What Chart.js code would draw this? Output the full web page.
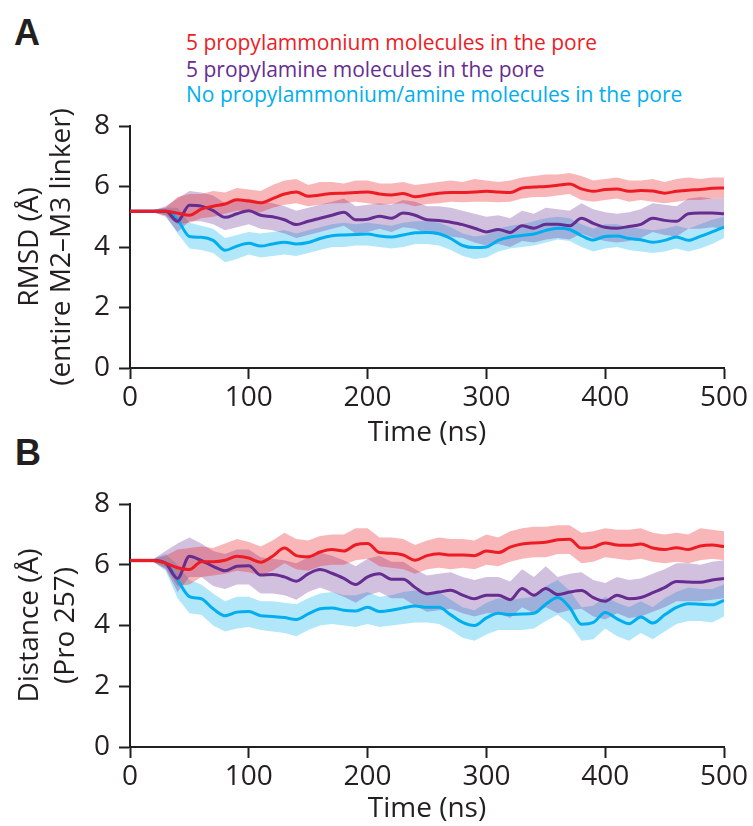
<!DOCTYPE html>
<html>
<head>
<meta charset="utf-8">
<script src="https://cdn.jsdelivr.net/npm/chart.js@4.4.0/dist/chart.umd.min.js"></script>
<style>
  html, body { margin:0; padding:0; background:#fff; }
  #wrap { position:relative; width:753px; height:826px; overflow:hidden; }
  canvas { position:absolute; left:0; }
  .lbl { position:absolute; font-family:'Liberation Sans', Arial, sans-serif; font-weight:bold; font-size:36px; line-height:36px; color:#231f20; }
  .leg { position:absolute; left:186px; font-family:'Open Sans', sans-serif; font-size:21px; line-height:26px; white-space:nowrap; }
</style>
</head>
<body>
<div id="wrap">
  <div class="lbl" style="left:14px; top:15px;">A</div>
  <div class="lbl" style="left:15px; top:435px;">B</div>
  <div class="leg" style="top:29px; color:#ed1c24;">5 propylammonium molecules in the pore</div>
  <div class="leg" style="top:56px; color:#662d91;">5 propylamine molecules in the pore</div>
  <div class="leg" style="top:81px; color:#00aeef;">No propylammonium/amine molecules in the pore</div>
  <canvas id="chartA" width="753" height="450" style="top:0px;"></canvas>
  <canvas id="chartB" width="753" height="376" style="top:450px;"></canvas>
</div>
<script>
// ---------- data ----------
const timeNs = [0,10,20,30,40,50,60,70,80,90,100,110,120,130,140,150,160,170,180,190,200,210,220,230,240,250,260,270,280,290,300,310,320,330,340,350,360,370,380,390,400,410,420,430,440,450,460,470,480,490,500];
const xTicks = [0,100,200,300,400,500];
const yTicks = [0,2,4,6,8];
const seriesNames = ['5 propylammonium molecules in the pore','5 propylamine molecules in the pore','No propylammonium/amine molecules in the pore'];

// Panel A: RMSD (entire M2–M3 linker), Å
const aRedLine = [5.18,5.18,5.18,5.18,5.12,5.05,5.25,5.35,5.42,5.56,5.52,5.46,5.6,5.75,5.82,5.68,5.72,5.77,5.78,5.8,5.82,5.75,5.72,5.77,5.66,5.72,5.78,5.8,5.8,5.82,5.84,5.82,5.8,5.95,5.98,6.0,6.04,6.08,5.92,5.84,5.9,5.92,5.84,5.87,5.85,5.78,5.84,5.88,5.9,5.94,5.95];
const aRedHi   = [5.22,5.22,5.22,5.3,5.65,5.75,5.75,5.85,5.8,5.95,5.9,5.85,6.05,6.2,6.25,6.05,6.15,6.15,6.1,6.2,6.2,6.1,6.1,6.15,6.05,6.1,6.15,6.2,6.15,6.25,6.2,6.15,6.2,6.3,6.35,6.4,6.4,6.45,6.35,6.2,6.25,6.3,6.2,6.2,6.25,6.15,6.25,6.3,6.25,6.3,6.3];
const aRedLo   = [5.14,5.14,5.14,5.05,4.75,4.8,4.95,5.0,5.1,5.2,5.2,5.15,5.3,5.4,5.45,5.35,5.4,5.45,5.45,5.5,5.45,5.4,5.42,5.45,5.35,5.42,5.45,5.5,5.48,5.5,5.5,5.48,5.5,5.6,5.65,5.65,5.7,5.75,5.55,5.5,5.55,5.6,5.5,5.55,5.5,5.45,5.5,5.55,5.55,5.6,5.6];
const aPurLine = [5.18,5.18,5.18,5.18,4.85,5.38,5.35,5.2,4.98,5.1,5.2,5.05,5.0,4.9,4.74,4.85,4.95,5.05,5.15,4.9,4.92,5.02,4.95,5.12,5.05,4.9,4.88,4.82,4.74,4.62,4.5,4.58,4.48,4.7,4.62,4.75,4.75,4.7,4.95,4.78,4.65,4.62,4.68,4.75,4.95,4.88,4.85,5.1,5.12,5.12,5.1];
const aPurHi   = [5.22,5.22,5.22,5.35,5.6,5.85,5.8,5.7,5.45,5.55,5.6,5.5,5.45,5.35,5.2,5.3,5.4,5.5,5.6,5.35,5.4,5.45,5.4,5.55,5.5,5.35,5.35,5.3,5.2,5.1,5.0,5.05,4.95,5.2,5.1,5.3,5.25,5.2,5.45,5.25,5.15,5.1,5.15,5.25,5.45,5.4,5.35,5.6,5.65,5.6,5.6];
const aPurLo   = [5.14,5.14,5.14,5.0,4.5,4.85,4.85,4.75,4.55,4.65,4.75,4.6,4.55,4.45,4.3,4.4,4.5,4.6,4.7,4.45,4.5,4.6,4.5,4.65,4.6,4.45,4.4,4.35,4.3,4.15,4.05,4.1,4.0,4.2,4.15,4.25,4.3,4.25,4.45,4.3,4.2,4.15,4.2,4.3,4.5,4.4,4.35,4.6,4.6,4.65,4.6];
const aCyaLine = [5.18,5.18,5.18,5.18,4.9,4.35,4.32,4.22,3.89,4.03,4.12,4.03,4.1,4.16,4.1,4.15,4.28,4.37,4.4,4.41,4.43,4.36,4.33,4.4,4.47,4.48,4.44,4.28,4.05,3.98,4.0,4.22,4.33,4.38,4.43,4.55,4.62,4.58,4.38,4.23,4.35,4.36,4.28,4.24,4.16,4.22,4.33,4.22,4.35,4.5,4.66];
const aCyaHi   = [5.22,5.22,5.22,5.3,5.3,4.8,4.7,4.6,4.3,4.4,4.5,4.45,4.5,4.55,4.45,4.55,4.65,4.75,4.8,4.75,4.8,4.75,4.7,4.8,4.85,4.85,4.8,4.65,4.45,4.35,4.4,4.6,4.7,4.75,4.85,4.95,5.0,4.95,4.75,4.6,4.75,4.75,4.65,4.6,4.55,4.6,4.7,4.6,4.75,4.9,5.0];
const aCyaLo   = [5.14,5.14,5.14,5.05,4.45,3.95,3.9,3.8,3.5,3.6,3.75,3.65,3.7,3.75,3.7,3.8,3.9,4.0,4.0,4.05,4.05,4.0,3.95,4.0,4.1,4.1,4.05,3.9,3.7,3.6,3.65,3.85,3.95,4.0,4.05,4.15,4.25,4.2,4.0,3.85,3.95,4.0,3.9,3.85,3.8,3.85,3.95,3.85,3.95,4.1,4.3];

// Panel B: Distance (Pro 257), Å
const bRedLine = [6.14,6.14,6.14,6.05,5.9,5.84,6.1,6.1,6.15,6.28,6.22,6.08,6.28,6.55,6.3,6.26,6.42,6.5,6.45,6.66,6.7,6.4,6.38,6.32,6.15,6.3,6.36,6.32,6.32,6.3,6.45,6.4,6.58,6.68,6.72,6.74,6.82,6.84,6.55,6.58,6.72,6.65,6.64,6.68,6.55,6.5,6.56,6.5,6.62,6.65,6.6];
const bRedHi   = [6.2,6.2,6.2,6.3,6.5,6.55,6.6,6.55,6.7,6.85,6.75,6.6,6.8,7.05,6.85,6.8,6.95,7.0,7.0,7.2,7.2,6.9,6.9,6.85,6.65,6.8,6.9,6.85,6.85,6.8,7.0,6.9,7.1,7.2,7.25,7.25,7.3,7.3,7.05,7.1,7.2,7.15,7.15,7.2,7.05,7.0,7.05,7.0,7.2,7.15,7.1];
const bRedLo   = [6.08,6.08,6.08,5.9,5.3,5.35,5.6,5.65,5.7,5.8,5.75,5.65,5.8,6.05,5.85,5.8,5.95,6.0,6.0,6.15,6.2,5.95,5.9,5.85,5.7,5.85,5.9,5.85,5.9,5.85,6.0,5.95,6.1,6.2,6.25,6.25,6.35,6.35,6.05,6.1,6.25,6.2,6.15,6.2,6.1,6.05,6.1,6.05,6.15,6.2,6.15];
const bPurLine = [6.14,6.14,6.14,6.05,5.55,6.28,6.14,5.95,5.8,5.95,5.97,5.66,5.68,5.6,5.46,5.7,5.84,5.72,5.55,5.35,5.6,5.7,5.52,5.52,5.25,5.04,5.1,5.16,5.0,4.88,5.0,5.0,4.85,5.22,5.0,5.22,5.02,5.1,5.15,4.92,4.8,5.0,4.88,4.92,5.08,5.25,5.45,5.43,5.42,5.5,5.55];
const bPurHi   = [6.2,6.2,6.2,6.45,6.7,6.9,6.7,6.45,6.35,6.5,6.5,6.25,6.2,6.15,6.05,6.25,6.4,6.3,6.15,5.95,6.2,6.3,6.1,6.1,5.85,5.65,5.7,5.75,5.6,5.5,5.6,5.6,5.45,5.85,5.6,5.95,5.6,5.7,5.75,5.5,5.4,5.6,5.5,5.55,5.7,5.85,6.05,6.05,6.0,6.1,6.15];
const bPurLo   = [6.08,6.08,6.08,5.85,5.1,5.6,5.6,5.3,5.2,5.35,5.35,5.05,5.05,5.0,4.85,5.1,5.25,5.1,4.95,4.75,5.0,5.1,4.9,4.9,4.65,4.45,4.5,4.55,4.4,4.3,4.4,4.4,4.25,4.6,4.4,4.6,4.4,4.5,4.55,4.3,4.2,4.4,4.25,4.3,4.45,4.6,4.8,4.8,4.8,4.85,4.9];
const bCyaLine = [6.14,6.14,6.14,6.05,5.5,4.95,4.88,4.55,4.32,4.44,4.46,4.32,4.3,4.26,4.2,4.38,4.55,4.58,4.5,4.48,4.6,4.46,4.5,4.58,4.64,4.6,4.6,4.35,4.1,4.0,4.25,4.4,4.36,4.38,4.4,4.7,4.92,4.6,4.04,4.1,4.43,4.22,4.06,4.28,4.08,4.35,4.6,4.72,4.7,4.68,4.83];
const bCyaHi   = [6.2,6.2,6.2,6.35,6.0,5.5,5.35,5.05,4.8,4.95,4.95,4.8,4.8,4.75,4.7,4.9,5.05,5.1,5.0,5.0,5.1,4.95,5.0,5.1,5.15,5.1,5.1,4.85,4.6,4.5,4.75,4.9,4.85,4.9,4.95,5.3,5.5,5.15,4.6,4.65,4.95,4.75,4.6,4.8,4.6,4.9,5.1,5.25,5.2,5.2,5.35];
const bCyaLo   = [6.08,6.08,6.08,5.8,4.9,4.4,4.35,4.0,3.8,3.9,3.95,3.85,3.8,3.75,3.65,3.85,4.0,4.05,4.0,3.95,4.05,3.95,4.0,4.05,4.1,4.1,4.05,3.85,3.6,3.5,3.7,3.85,3.85,3.85,3.9,4.15,4.35,4.05,3.5,3.55,3.9,3.65,3.5,3.75,3.55,3.8,4.05,4.15,4.15,4.1,4.3];

// ---------- styling ----------
const INK = '#231f20';
const FONT = "'Open Sans', sans-serif";
const COLORS = {
  red:    { line:'#ed1c24', band:'rgba(237,28,36,0.32)' },
  purple: { line:'#662d91', band:'rgba(102,45,145,0.30)' },
  cyan:   { line:'#00aeef', band:'rgba(0,174,239,0.30)' }
};

function pts(arr) { return arr.map((v, i) => ({ x: timeNs[i], y: v })); }

function buildDatasets(red, pur, cya) {
  const ds = [];
  const band = (hi, lo, color, order, name) => {
    ds.push({ label: name + ' (range hi)', data: pts(hi), borderWidth: 0, pointRadius: 0, tension: 0,
              backgroundColor: color, fill: '+1', order: order });
    ds.push({ label: name + ' (range lo)', data: pts(lo), borderWidth: 0, pointRadius: 0, tension: 0,
              backgroundColor: color, fill: false, order: order });
  };
  band(cya[1], cya[2], COLORS.cyan.band, 6, seriesNames[2]);
  band(pur[1], pur[2], COLORS.purple.band, 5, seriesNames[1]);
  band(red[1], red[2], COLORS.red.band, 4, seriesNames[0]);
  const line = (arr, color, order, name) => ds.push({ label: name, data: pts(arr), borderColor: color,
              borderWidth: 3, pointRadius: 0, cubicInterpolationMode: 'monotone', fill: false, order: order });
  line(cya[0], COLORS.cyan.line, 2, seriesNames[2]);
  line(pur[0], COLORS.purple.line, 1, seriesNames[1]);
  line(red[0], COLORS.red.line, 0, seriesNames[0]);
  return ds;
}

function makeChart(id, datasets, yTitle, topPad, xScaleH, yTitleLH, yTitlePadTop) {
  return new Chart(document.getElementById(id), {
    type: 'line',
    data: { datasets },
    options: {
      responsive: false, animation: false, devicePixelRatio: 1,
      layout: { padding: { left: 0, right: 29, top: topPad, bottom: 0 } },
      plugins: { legend: { display: false }, tooltip: { enabled: false }, filler: { propagate: false } },
      scales: {
        x: {
          type: 'linear', min: 0, max: 500,
          afterBuildTicks: s => { s.ticks = xTicks.map(v => ({ value: v })); },
          afterFit: s => { s.height = xScaleH; },
          grid: { display: true, drawOnChartArea: false, drawTicks: true, tickLength: 11, tickWidth: 2, tickColor: INK },
          border: { display: true, color: INK, width: 2 },
          ticks: { font: { family: FONT, size: 28 }, color: INK, padding: 2, maxRotation: 0, autoSkip: false },
          title: { display: true, text: 'Time (ns)', color: INK, font: { family: FONT, size: 28 }, padding: { top: 0, bottom: 0 } }
        },
        y: {
          min: 0, max: 8,
          afterBuildTicks: s => { s.ticks = yTicks.map(v => ({ value: v })); },
          afterFit: s => { s.width = 130; },
          grid: { display: true, drawOnChartArea: false, drawTicks: true, tickLength: 11, tickWidth: 2, tickColor: INK },
          border: { display: true, color: INK, width: 2 },
          ticks: { font: { family: FONT, size: 28 }, color: INK, padding: 9 },
          title: { display: true, text: yTitle, color: INK, font: { family: FONT, size: 28, lineHeight: yTitleLH }, padding: { top: yTitlePadTop, bottom: 0 } }
        }
      }
    }
  });
}

makeChart('chartA',
  buildDatasets([aRedLine, aRedHi, aRedLo], [aPurLine, aPurHi, aPurLo], [aCyaLine, aCyaHi, aCyaLo]),
  ['RMSD (Å)', '(entire M2–M3 linker)'], 126, 82, '32px', 14);
makeChart('chartB',
  buildDatasets([bRedLine, bRedHi, bRedLo], [bPurLine, bPurHi, bPurLo], [bCyaLine, bCyaHi, bCyaLo]),
  ['Distance (Å)', '(Pro 257)'], 54, 79, '36px', 12);
</script>
</body>
</html>
